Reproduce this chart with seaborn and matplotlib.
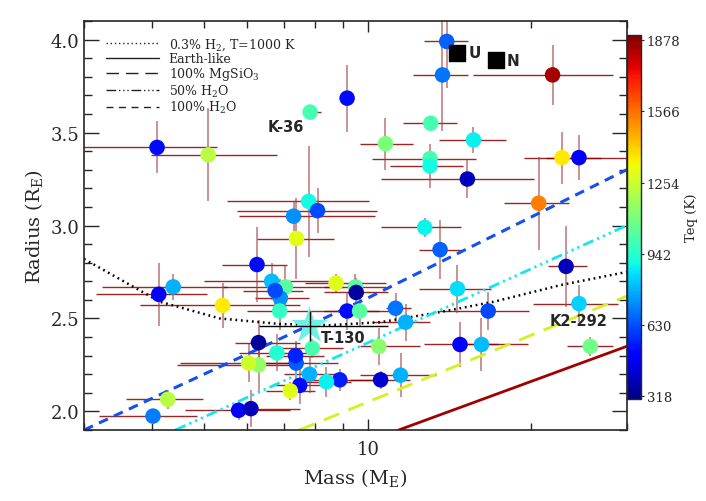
import numpy as np
import pandas as pd
import matplotlib
matplotlib.use("Agg")
import matplotlib.pyplot as plt
import seaborn as sns
from matplotlib.ticker import FixedLocator, NullFormatter, FormatStrFormatter, MultipleLocator
from matplotlib.lines import Line2D

# planets: mass (M_E), radius (R_E), Teq (K), mass error bounds, radius error
mass = [13.98, 13.73, 21.9, 13.06, 15.66, 10.78, 13.02, 13.02, 15.26, 22.8,
        24.5, 20.65, 12.73, 13.59, 23.2, 14.63, 16.67, 24.5, 14.79, 16.2,
        25.7, 11.49, 10.56, 8.88, 8.39, 7.81, 7.49, 7.20, 7.38, 7.36,
        7.90, 6.80, 6.29, 6.29, 6.03, 5.78, 6.09, 10.48, 4.02, 4.28,
        7.39, 7.78, 8.08, 7.30, 6.25, 6.65, 7.05, 8.74, 9.49, 9.52,
        4.09, 5.08, 7.83, 9.16, 4.12, 4.38, 5.40, 6.90, 6.75, 6.88,
        9.16, 9.66, 11.25, 11.74]
radius = [3.99, 3.81, 3.81, 3.55, 3.46, 3.44, 3.36, 3.32, 3.25, 3.365,
          3.365, 3.12, 2.99, 2.87, 2.78, 2.66, 2.54, 2.58, 2.36, 2.36,
          2.35, 2.195, 2.17, 2.17, 2.16, 2.20, 2.14, 2.11, 2.26, 2.30,
          2.34, 2.315, 2.37, 2.25, 2.26, 2.006, 2.015, 2.35, 1.975, 2.065,
          2.93, 3.13, 3.08, 3.05, 2.79, 2.70, 2.67, 2.69, 2.67, 2.64,
          3.42, 3.38, 3.61, 3.685, 2.63, 2.67, 2.57, 2.61, 2.65, 2.54,
          2.54, 2.54, 2.555, 2.48]
teq = [660, 690, 1850, 1000, 880, 1100, 1000, 900, 390, 1360,
       500, 1540, 890, 660, 390, 850, 620, 830, 480, 800,
       1080, 780, 420, 550, 880, 780, 520, 1300, 650, 560,
       1000, 930, 350, 1150, 1260, 500, 380, 1130, 700, 1220,
       1300, 900, 620, 730, 520, 800, 1030, 1290, 1030, 350,
       520, 1220, 1000, 520, 500, 780, 1360, 730, 620, 960,
       520, 1030, 690, 780]
mass_lo = [12.68, 12.09, 15.6, 11.59, 13.51, 9.69, 10.2, 11.01, 10.56, 19.4,
           21.3, 17.8, 10.56, 12.41, 21.5, 12.41, 13.51, 20.2, 12.68, 15.0,
           23.3, 9.69, 9.29, 7.84, 7.5, 7.0, 6.7, 6.5, 6.1, 6.5,
           6.9, 5.8, 5.7, 4.45, 4.5, 4.6, 5.6, 9.69, 3.2, 3.58,
           6.25, 5.5, 5.74, 5.79, 5.38, 5.0, 5.4, 7.65, 8.3, 8.3,
           2.9, 3.98, 7.67, 8.9, 3.16, 3.24, 3.80, 6.2, 5.9, 6.0,
           7.8, 8.3, 10.8, 10.2]
mass_hi = [15.29, 15.29, 28.3, 14.58, 17.97, 12.09, 15.82, 14.96, 20.24, 26.9,
           31.0, 23.5, 14.84, 14.84, 25.3, 16.86, 19.8, 28.9, 17.4, 19.7,
           28.3, 13.34, 11.98, 10.56, 9.3, 8.8, 8.5, 8.0, 8.8, 8.3,
           9.0, 7.9, 7.5, 7.2, 7.3, 7.2, 7.5, 12.5, 4.85, 4.97,
           8.68, 10.07, 10.42, 10.29, 7.1, 8.5, 9.0, 10.8, 10.8, 10.9,
           5.27, 6.79, 8.21, 9.4, 5.05, 5.5, 7.5, 7.8, 7.6, 7.8,
           10.5, 11.5, 12.0, 13.0]
radius_err = [0.25, 0.30, 0.16, 0.04, 0.07, 0.14, 0.04, 0.12, 0.10, 0.14,
              0.12, 0.25, 0.05, 0.16, 0.22, 0.13, 0.10, 0.10, 0.12, 0.14,
              0.05, 0.12, 0.05, 0.06, 0.08, 0.10, 0.10, 0.05, 0.10, 0.08,
              0.05, 0.10, 0.12, 0.15, 0.10, 0.05, 0.10, 0.10, 0.03, 0.05,
              0.22, 0.30, 0.12, 0.08, 0.20, 0.10, 0.12, 0.05, 0.07, 0.08,
              0.14, 0.25, 0.03, 0.18, 0.17, 0.07, 0.12, 0.10, 0.08, 0.10,
              0.10, 0.08, 0.08, 0.10]

# TOI-130 highlighted
t130_mass, t130_radius = 7.81, 2.46
t130_mass_lo, t130_mass_hi, t130_rerr = 6.3, 10.9, 0.08

# Solar system
ss_names = ["U", "N"]
ss_mass = [14.59, 17.2]
ss_radius = [3.93, 3.89]

# model curves
h2_mass = [3.0, 4.14, 5.34, 6.90, 8.53, 10.56, 13.63, 17.07, 22.7, 30.0]
h2_radius = [2.82, 2.59, 2.50, 2.47, 2.464, 2.48, 2.535, 2.59, 2.68, 2.75]
earth_mass = [11.4, 30.0]
earth_radius = [1.90, 2.35]
mgsio3_mass = [7.48, 30.0]
mgsio3_radius = [1.90, 2.62]
h2o50_mass = [4.42, 30.0]
h2o50_radius = [1.90, 3.00]
h2o100_mass = [3.0, 10.0, 30.0]
h2o100_radius = [1.90, 2.61, 3.30]

teq_ticks = [318, 630, 942, 1254, 1566, 1878]

df = pd.DataFrame({"mass": mass, "radius": radius, "teq": teq,
                   "lo": mass_lo, "hi": mass_hi, "rerr": radius_err})

sns.set_style("ticks")
plt.rcParams["font.family"] = ["DejaVu Serif"]
plt.rcParams["mathtext.fontset"] = "dejavuserif"

jet = plt.get_cmap("jet")

fig = plt.figure(figsize=(7.06, 5.02), dpi=100)
ax = fig.add_axes([0.119, 0.1414, 0.7687, 0.8148])

ax.errorbar(df["mass"], df["radius"], xerr=[df["mass"] - df["lo"], df["hi"] - df["mass"]],
            fmt="none", ecolor="#8b0000", elinewidth=1.0, alpha=0.85, zorder=1)
ax.errorbar(df["mass"], df["radius"], yerr=df["rerr"],
            fmt="none", ecolor="#a03c3c", elinewidth=1.1, alpha=0.7, zorder=1)
ax.errorbar([t130_mass], [t130_radius],
            xerr=[[t130_mass - t130_mass_lo], [t130_mass_hi - t130_mass]],
            yerr=t130_rerr, fmt="none", ecolor="black", elinewidth=1.0, zorder=5)

ax.plot(h2_mass, h2_radius, color="black", lw=1.8, ls=(0, (0.7, 1.5)), zorder=2)
ax.plot(earth_mass, earth_radius, color="#a00000", lw=2.0, zorder=2)
ax.plot(mgsio3_mass, mgsio3_radius, color="#d4f020", lw=2.0, ls=(0, (6, 3.5)), zorder=2)
ax.plot(h2o50_mass, h2o50_radius, color="#10e8f0", lw=2.0,
        ls=(0, (4, 1.5, 0.8, 1.5, 0.8, 1.5, 0.8, 1.5)), zorder=2)
ax.plot(h2o100_mass, h2o100_radius, color="#1450f0", lw=2.2, ls=(0, (3.2, 2.2)), zorder=2)

norm = plt.Normalize(305, 1900)
sns.scatterplot(data=df, x="mass", y="radius", hue="teq", palette=jet, hue_norm=norm,
                s=125, edgecolor="none", linewidth=0, legend=False, ax=ax, zorder=3)
ax.scatter([t130_mass], [t130_radius], marker="*", s=800, color="#6ff0e6",
           edgecolor="none", zorder=4)

ax.scatter(ss_mass, ss_radius, marker="s", s=120, color="black", zorder=4)
for n, m, r in zip(ss_names, ss_mass, ss_radius):
    ax.text(m * 1.05, r, n, fontsize=11, fontweight="bold", va="center", ha="left",
            family="DejaVu Sans")

ax.text(6.53, 3.53, "K-36", fontsize=10.5, fontweight="bold", family="DejaVu Sans",
        va="center", ha="left")
ax.text(8.21, 2.40, "T-130", fontsize=10.5, fontweight="bold", family="DejaVu Sans",
        va="center", ha="left")
ax.text(21.6, 2.49, "K2-292", fontsize=10.5, fontweight="bold", family="DejaVu Sans",
        va="center", ha="left")

ax.set_xscale("log")
ax.set_xlim(3, 30)
ax.set_ylim(1.9, 4.1)
ax.xaxis.set_major_locator(FixedLocator([10]))
ax.xaxis.set_major_formatter(FormatStrFormatter("%d"))
ax.xaxis.set_minor_locator(FixedLocator([3, 4, 5, 6, 7, 8, 9, 20, 30]))
ax.xaxis.set_minor_formatter(NullFormatter())
ax.yaxis.set_major_locator(MultipleLocator(0.5))
ax.yaxis.set_minor_locator(MultipleLocator(0.1))
ax.yaxis.set_major_formatter(FormatStrFormatter("%.1f"))
ax.tick_params(which="both", direction="in", top=True, right=True, labelsize=13, width=1)
ax.tick_params(axis="y", which="major", length=11)
ax.tick_params(axis="y", which="minor", length=6)
ax.tick_params(axis="x", which="major", length=8, pad=7)
ax.tick_params(axis="x", which="minor", length=5)
for s in ax.spines.values():
    s.set_linewidth(1.2)

ax.set_xlabel(r"Mass (M$_{\rm E}$)", fontsize=14, labelpad=6)
ax.set_ylabel(r"Radius (R$_{\rm E}$)", fontsize=14)

handles = [
    Line2D([], [], color="#222222", lw=1.0, ls=(0, (1, 2))),
    Line2D([], [], color="#222222", lw=1.0),
    Line2D([], [], color="#222222", lw=1.0, ls=(0, (9, 5))),
    Line2D([], [], color="#222222", lw=1.0, ls=(0, (7, 2, 1, 2, 1, 2, 1, 2))),
    Line2D([], [], color="#222222", lw=1.0, ls=(0, (5, 4))),
]
labels = [r"0.3% H$_2$, T=1000 K", "Earth-like", r"100% MgSiO$_3$",
          r"50% H$_2$O", r"100% H$_2$O"]
ax.legend(handles, labels, loc="upper left", frameon=False, fontsize=9,
          handlelength=4.2, handletextpad=0.8, labelspacing=0.02,
          bbox_to_anchor=(0.02, 0.99))

cax = fig.add_axes([0.888, 0.203, 0.02, 0.725])
sm = plt.cm.ScalarMappable(norm=norm, cmap=jet)
cb = fig.colorbar(sm, cax=cax, ticks=teq_ticks)
cb.outline.set_linewidth(1.0)
cax.tick_params(labelsize=9.5, length=2, pad=2, direction="out")
cax.set_ylabel("Teq (K)", fontsize=9.5, labelpad=3)

fig.savefig("out.png", dpi=100)
